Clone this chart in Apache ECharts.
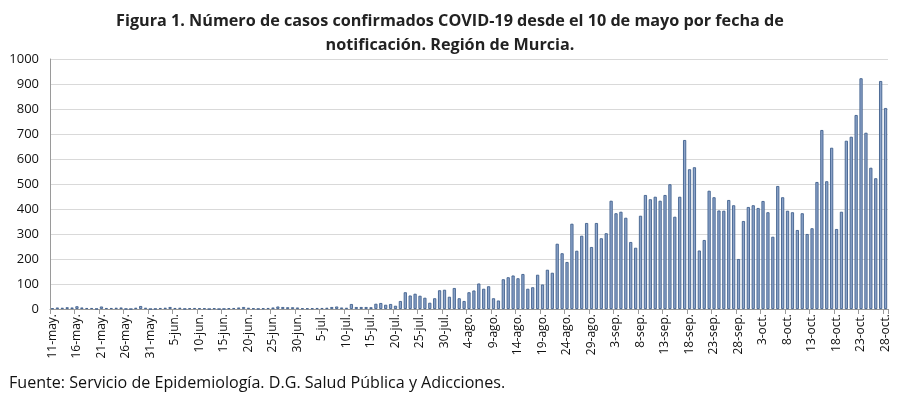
<!DOCTYPE html>
<html>
<head>
<meta charset="utf-8">
<script src="https://cdn.jsdelivr.net/npm/echarts@6/dist/echarts.min.js"></script>
<style>
html,body{margin:0;padding:0;background:#fff;}
#c{width:900px;height:395px;}
</style>
</head>
<body>
<div id="c"></div>
<script>
var titleLines = ["Figura 1. Número de casos confirmados COVID-19 desde el 10 de mayo por fecha de", "notificación. Región de Murcia."];
var sourceText = "Fuente: Servicio de Epidemiología. D.G. Salud Pública y Adicciones.";

var dates = [
"11-may.","12-may.","13-may.","14-may.","15-may.","16-may.","17-may.","18-may.","19-may.","20-may.",
"21-may.","22-may.","23-may.","24-may.","25-may.","26-may.","27-may.","28-may.","29-may.","30-may.","31-may.",
"1-jun.","2-jun.","3-jun.","4-jun.","5-jun.","6-jun.","7-jun.","8-jun.","9-jun.","10-jun.",
"11-jun.","12-jun.","13-jun.","14-jun.","15-jun.","16-jun.","17-jun.","18-jun.","19-jun.","20-jun.",
"21-jun.","22-jun.","23-jun.","24-jun.","25-jun.","26-jun.","27-jun.","28-jun.","29-jun.","30-jun.",
"1-jul.","2-jul.","3-jul.","4-jul.","5-jul.","6-jul.","7-jul.","8-jul.","9-jul.","10-jul.",
"11-jul.","12-jul.","13-jul.","14-jul.","15-jul.","16-jul.","17-jul.","18-jul.","19-jul.","20-jul.",
"21-jul.","22-jul.","23-jul.","24-jul.","25-jul.","26-jul.","27-jul.","28-jul.","29-jul.","30-jul.","31-jul.",
"1-ago.","2-ago.","3-ago.","4-ago.","5-ago.","6-ago.","7-ago.","8-ago.","9-ago.","10-ago.",
"11-ago.","12-ago.","13-ago.","14-ago.","15-ago.","16-ago.","17-ago.","18-ago.","19-ago.","20-ago.",
"21-ago.","22-ago.","23-ago.","24-ago.","25-ago.","26-ago.","27-ago.","28-ago.","29-ago.","30-ago.","31-ago.",
"1-sep.","2-sep.","3-sep.","4-sep.","5-sep.","6-sep.","7-sep.","8-sep.","9-sep.","10-sep.",
"11-sep.","12-sep.","13-sep.","14-sep.","15-sep.","16-sep.","17-sep.","18-sep.","19-sep.","20-sep.",
"21-sep.","22-sep.","23-sep.","24-sep.","25-sep.","26-sep.","27-sep.","28-sep.","29-sep.","30-sep.",
"1-oct.","2-oct.","3-oct.","4-oct.","5-oct.","6-oct.","7-oct.","8-oct.","9-oct.","10-oct.",
"11-oct.","12-oct.","13-oct.","14-oct.","15-oct.","16-oct.","17-oct.","18-oct.","19-oct.","20-oct.",
"21-oct.","22-oct.","23-oct.","24-oct.","25-oct.","26-oct.","27-oct.","28-oct."
];

var casesMay = [3,6,5,7,6,11,6,4,4,1,10,4,4,5,6,1,0,5,12,5,0];
var casesJun = [1,4,5,8,4,5,1,3,4,3,3,0,3,0,1,3,4,6,8,5,3,1,3,4,6,10,8,7,7,6];
var casesJul = [3,3,3,4,4,5,8,10,6,5,20,8,8,8,7,21,24,17,20,13,32,67,54,61,53,45,25,43,75,77,49];
var casesAgo = [84,43,32,67,74,102,81,91,43,34,119,127,134,123,140,81,87,137,98,157,145,261,223,188,341,233,293,344,248,344,283];
var casesSep = [303,433,383,389,365,268,245,373,456,439,449,433,456,499,369,449,676,559,567,234,276,473,447,394,393,436,415,200,352,408];
var casesOct = [415,404,432,387,289,492,447,393,387,316,383,300,323,508,716,511,645,320,389,673,689,776,923,705,565,523,912,804];

var yTicks = { min: 0, max: 1000, interval: 100 };

var cases = [].concat(casesMay, casesJun, casesJul, casesAgo, casesSep, casesOct);

var chart = echarts.init(document.getElementById('c'), null, { renderer: 'canvas' });
var FONT = '"Open Sans", "Noto Sans", sans-serif';
chart.setOption({
  animation: false,
  backgroundColor: '#ffffff',
  title: [
    { text: titleLines.join('\n'), left: 'center', top: 4,
      textStyle: { fontFamily: FONT, fontWeight: 'bold', fontSize: 16.2, lineHeight: 24, color: '#222' } },
    { text: sourceText, left: 4, top: 370,
      textStyle: { fontFamily: FONT, fontWeight: 'normal', fontSize: 16.1, color: '#111' } }
  ],
  grid: { left: 50, right: 12, top: 59, bottom: 86, containLabel: false },
  xAxis: {
    type: 'category',
    data: dates,
    boundaryGap: true,
    axisLine: { lineStyle: { color: '#9a9a9a', width: 1 } },
    axisTick: { show: true, interval: 4, length: 5, lineStyle: { color: '#9a9a9a' } },
    axisLabel: { interval: 4, rotate: 90, fontFamily: FONT, fontSize: 12, color: '#111', margin: 5 }
  },
  yAxis: {
    type: 'value',
    min: yTicks.min, max: yTicks.max, interval: yTicks.interval,
    axisLine: { show: true, lineStyle: { color: '#9a9a9a' } },
    axisTick: { show: false },
    splitLine: { lineStyle: { color: '#d9d9d9', width: 1.2 } },
    axisLabel: { fontFamily: FONT, fontSize: 13, color: '#111', margin: 11, formatter: function (v) { return String(v); } }
  },
  series: [{
    type: 'bar',
    data: cases,
    barWidth: 3.2,
    itemStyle: { color: '#8ca3c9', borderColor: '#41618d', borderWidth: 0.9 }
  }]
});
</script>
</body>
</html>
